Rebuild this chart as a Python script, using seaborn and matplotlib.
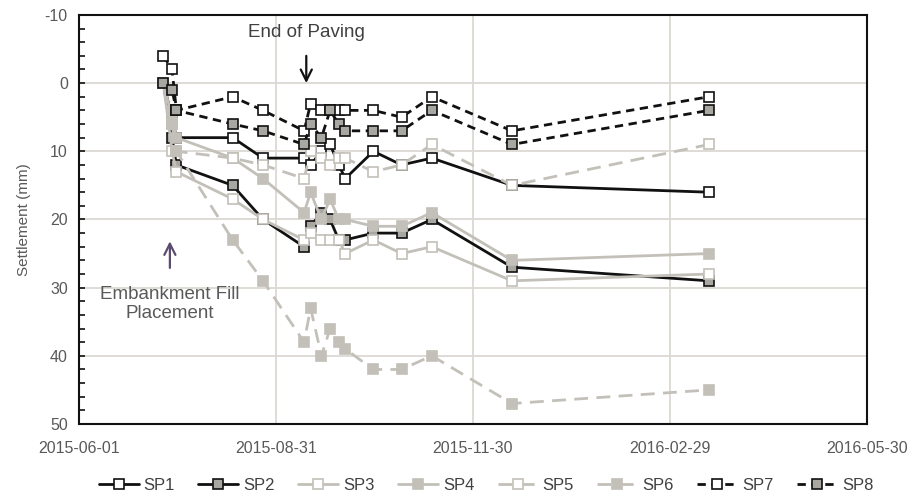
import pandas as pd
import matplotlib
matplotlib.use('Agg')
import matplotlib.pyplot as plt
import matplotlib.dates as mdates
from matplotlib.ticker import MultipleLocator
import seaborn as sns

# 測定日
dates = pd.to_datetime([
    '2015-07-10', '2015-07-14', '2015-07-16', '2015-08-11', '2015-08-25',
    '2015-09-13', '2015-09-16', '2015-09-21', '2015-09-25', '2015-09-29',
    '2015-10-02', '2015-10-15', '2015-10-28', '2015-11-11', '2015-12-18',
    '2016-03-18'])

# 各沈下板の沈下量 (mm)
sp1 = [0, 5, 8, 8, 11, 11, 12, 10, 9, 12, 14, 10, 12, 11, 15, 16]
sp2 = [0, 8, 12, 15, 20, 24, 21, 19, 20, 23, 23, 22, 22, 20, 27, 29]
sp3 = [0, 10, 13, 17, 20, 23, 22, 23, 23, 23, 25, 23, 25, 24, 29, 28]
sp4 = [0, 5, 8, 11, 14, 19, 16, 20, 17, 20, 20, 21, 21, 19, 26, 25]
sp5 = [0, 6, 10, 11, 12, 14, 10, 11, 12, 11, 11, 13, 12, 9, 15, 9]
sp6 = [0, 6, 10, 23, 29, 38, 33, 40, 36, 38, 39, 42, 42, 40, 47, 45]
sp7 = [-4, -2, 4, 2, 4, 7, 3, 4, 4, 4, 4, 4, 5, 2, 7, 2]
sp8 = [0, 1, 4, 6, 7, 9, 6, 8, 4, 6, 7, 7, 7, 4, 9, 4]

labels = ['SP1', 'SP2', 'SP3', 'SP4', 'SP5', 'SP6', 'SP7', 'SP8']
values = [sp1, sp2, sp3, sp4, sp5, sp6, sp7, sp8]

BLACK = '#111111'
LGRAY = '#c3c0b9'
MGRAY = '#a9a7a2'
# (線色, 線種, マーカー面, マーカー縁)
styles = [
    (BLACK, '-', 'white', BLACK),
    (BLACK, '-', MGRAY, BLACK),
    (LGRAY, '-', 'white', LGRAY),
    (LGRAY, '-', LGRAY, LGRAY),
    (LGRAY, (0, (5, 3)), 'white', LGRAY),
    (LGRAY, (0, (5, 3)), LGRAY, LGRAY),
    (BLACK, (0, (3, 2)), 'white', BLACK),
    (BLACK, (0, (3, 2)), MGRAY, BLACK),
]

sns.set_style('white')
plt.rcParams['font.family'] = ['Liberation Sans', 'DejaVu Sans']
plt.rcParams['axes.unicode_minus'] = False

fig = plt.figure(figsize=(9.17, 4.98), dpi=100)
ax = fig.add_axes([0.0861, 0.1486, 0.8594, 0.8214])

for lab, vals, (c, ls, fc, ec) in zip(labels, values, styles):
    sns.lineplot(x=dates, y=vals, ax=ax, color=c, linestyle=ls, linewidth=2,
                 marker='s', markersize=6.5, markerfacecolor=fc, markeredgecolor=ec,
                 markeredgewidth=1.2, label=lab, sort=False, legend=False)

ax.set_xlim(pd.Timestamp('2015-06-01'), pd.Timestamp('2016-05-30'))
ax.set_xticks(pd.to_datetime(['2015-06-01', '2015-08-31', '2015-11-30',
                              '2016-02-29', '2016-05-30']))
ax.xaxis.set_major_formatter(mdates.DateFormatter('%Y-%m-%d'))
ax.set_ylim(50, -10)
ax.yaxis.set_major_locator(MultipleLocator(10))
ax.yaxis.set_minor_locator(MultipleLocator(2))

ax.grid(True, which='major', color='#dcd9d3', linewidth=1.3)
ax.set_axisbelow(True)
for s in ax.spines.values():
    s.set_visible(True)
    s.set_color(BLACK)
    s.set_linewidth(1.5)

ax.tick_params(axis='x', which='major', direction='out', length=4, width=1.2,
               colors=BLACK, labelcolor='#595959', labelsize=11.5, pad=8)
ax.tick_params(axis='y', which='both', direction='in', length=4, width=1.2,
               colors=BLACK, labelcolor='#595959', labelsize=11.5, pad=8, left=True)
ax.set_xlabel('')
ax.set_ylabel('Settlement (mm)', color='#595959', fontsize=11, labelpad=10)

# 注記
ax.annotate('', xy=(pd.Timestamp('2015-09-14'), 0), xytext=(pd.Timestamp('2015-09-14'), -4),
            arrowprops=dict(arrowstyle='->', color=BLACK, lw=1.6, mutation_scale=20,
                            shrinkA=0, shrinkB=0))
ax.text(pd.Timestamp('2015-09-14'), -7.4, 'End of Paving', ha='center', va='center',
        color='#404040', fontsize=13.5)
ax.annotate('', xy=(pd.Timestamp('2015-07-13'), 23.2), xytext=(pd.Timestamp('2015-07-13'), 27.1),
            arrowprops=dict(arrowstyle='->', color='#5b4b6e', lw=1.6, mutation_scale=20,
                            shrinkA=0, shrinkB=0))
ax.text(pd.Timestamp('2015-07-13'), 32.4, 'Embankment Fill\nPlacement', ha='center', va='center',
        color='#595959', fontsize=13.5, linespacing=1.15)

handles, labs = ax.get_legend_handles_labels()
fig.legend(handles, labs, loc='lower center', ncol=8, frameon=False,
           bbox_to_anchor=(0.53, -0.02), fontsize=12, handlelength=2.4,
           columnspacing=1.4, handletextpad=0.3, labelcolor='#404040')

fig.savefig('out.png', dpi=100)
